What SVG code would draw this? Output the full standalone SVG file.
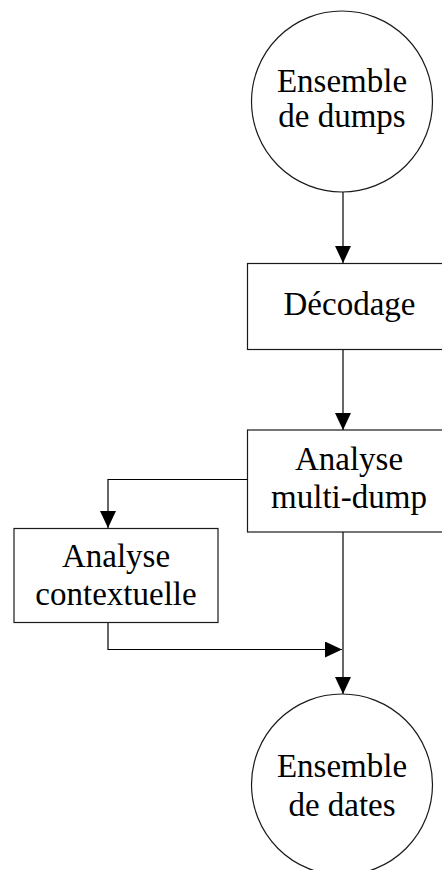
<svg xmlns="http://www.w3.org/2000/svg" width="442" height="870" viewBox="0 0 442 870">
  <defs>
    <marker id="arrow" markerUnits="userSpaceOnUse" markerWidth="17" markerHeight="16" refX="17" refY="8" orient="auto">
      <path d="M0,0 L17,8 L0,16 z" fill="#000"/>
    </marker>
    <style>
      .shape { fill: #fff; stroke: #1a1a1a; stroke-width: 1.2; }
      .edge { fill: none; stroke: #000; stroke-width: 1.2; marker-end: url(#arrow); }
      .label { font-family: "Liberation Serif", "DejaVu Serif", serif; font-size: 33px; fill: #000; text-anchor: middle; }
    </style>
  </defs>
  <rect width="442" height="870" fill="#fff"/>

  <!-- connectors -->
  <g id="connectors">
    <path class="edge" d="M343,192 L343,263"/>
    <path class="edge" d="M343,349 L343,430"/>
    <path class="edge" d="M248,479.5 L108,479.5 L108,528"/>
    <path class="edge" d="M343,532 L343,694"/>
    <path class="edge" d="M108,622 L108,649.5 L342,649.5"/>
  </g>

  <!-- input set -->
  <g id="ensemble-dumps">
    <circle class="shape" cx="342" cy="101.5" r="90.5"/>
    <text class="label" x="342" y="92">Ensemble</text>
    <text class="label" x="342" y="127">de dumps</text>
  </g>

  <g id="decodage">
    <rect class="shape" x="247.5" y="263.5" width="205" height="86"/>
    <text class="label" x="349.5" y="315">Décodage</text>
  </g>

  <g id="analyse-multi-dump">
    <rect class="shape" x="247.5" y="430" width="205" height="102"/>
    <text class="label" x="349" y="470">Analyse</text>
    <text class="label" x="349" y="508">multi-dump</text>
  </g>

  <g id="analyse-contextuelle">
    <rect class="shape" x="14" y="528.5" width="204" height="94"/>
    <text class="label" x="116" y="567">Analyse</text>
    <text class="label" x="116" y="605">contextuelle</text>
  </g>

  <!-- output set -->
  <g id="ensemble-dates">
    <circle class="shape" cx="342" cy="784.5" r="90.5"/>
    <text class="label" x="342" y="777">Ensemble</text>
    <text class="label" x="342" y="816">de dates</text>
  </g>
</svg>
